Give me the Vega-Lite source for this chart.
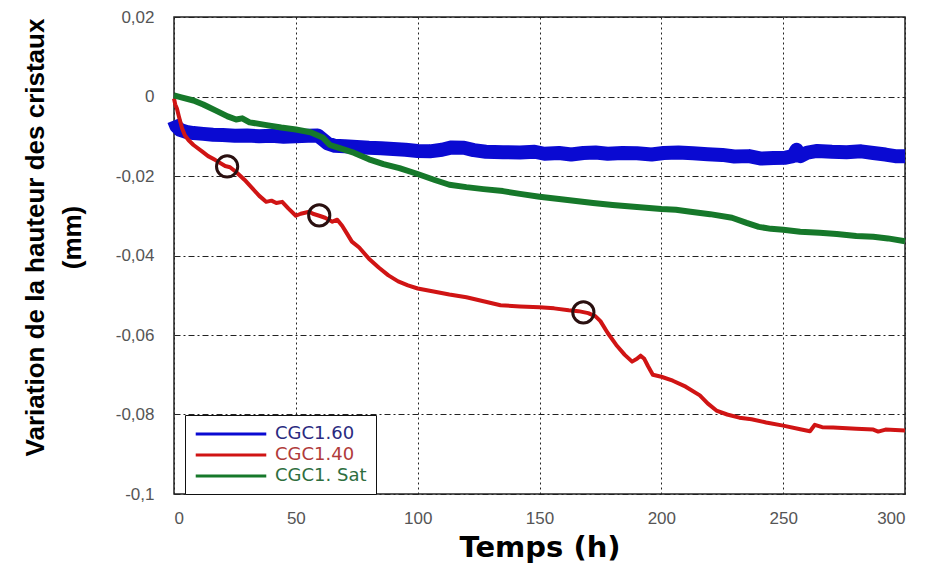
{
  "$schema": "https://vega.github.io/schema/vega-lite/v6.json",
  "width": 731,
  "height": 477,
  "autosize": {"type": "none"},
  "padding": {"left": 174, "top": 17, "right": 21, "bottom": 77},
  "background": "white",
  "config": {
    "view": {"stroke": "#222", "strokeWidth": 1.5},
    "axis": {"domain": false, "ticks": false, "labelColor": "#555", "labelFont": "Liberation Sans", "labelFontSize": 17, "titleColor": "#000", "gridColor": "#222", "gridOpacity": 1, "gridWidth": 1}
  },
  "datasets": {
    "curves": [
      {"t": 0, "v": -0.006, "s": "CGC1.60"}, {"t": 1, "v": -0.0075, "s": "CGC1.60"}, {"t": 2.5, "v": -0.0084, "s": "CGC1.60"}, {"t": 5, "v": -0.0089, "s": "CGC1.60"}, {"t": 8, "v": -0.0092, "s": "CGC1.60"}, {"t": 12, "v": -0.0094, "s": "CGC1.60"}, {"t": 16, "v": -0.0096, "s": "CGC1.60"}, {"t": 20, "v": -0.0097, "s": "CGC1.60"}, {"t": 25, "v": -0.0099, "s": "CGC1.60"}, {"t": 30, "v": -0.0098, "s": "CGC1.60"}, {"t": 35, "v": -0.01, "s": "CGC1.60"}, {"t": 40, "v": -0.0099, "s": "CGC1.60"}, {"t": 45, "v": -0.0101, "s": "CGC1.60"}, {"t": 50, "v": -0.01, "s": "CGC1.60"}, {"t": 55, "v": -0.0099, "s": "CGC1.60"}, {"t": 59, "v": -0.0098, "s": "CGC1.60"}, {"t": 61, "v": -0.0108, "s": "CGC1.60"}, {"t": 63, "v": -0.0118, "s": "CGC1.60"}, {"t": 66, "v": -0.0124, "s": "CGC1.60"}, {"t": 70, "v": -0.0125, "s": "CGC1.60"}, {"t": 75, "v": -0.0127, "s": "CGC1.60"}, {"t": 80, "v": -0.0129, "s": "CGC1.60"}, {"t": 85, "v": -0.013, "s": "CGC1.60"}, {"t": 90, "v": -0.0132, "s": "CGC1.60"}, {"t": 95, "v": -0.0134, "s": "CGC1.60"}, {"t": 100, "v": -0.0137, "s": "CGC1.60"}, {"t": 105, "v": -0.0138, "s": "CGC1.60"}, {"t": 110, "v": -0.0134, "s": "CGC1.60"}, {"t": 114, "v": -0.0128, "s": "CGC1.60"}, {"t": 119, "v": -0.0129, "s": "CGC1.60"}, {"t": 123, "v": -0.0135, "s": "CGC1.60"}, {"t": 128, "v": -0.0139, "s": "CGC1.60"}, {"t": 135, "v": -0.014, "s": "CGC1.60"}, {"t": 142, "v": -0.0141, "s": "CGC1.60"}, {"t": 148, "v": -0.0139, "s": "CGC1.60"}, {"t": 152, "v": -0.0144, "s": "CGC1.60"}, {"t": 158, "v": -0.0142, "s": "CGC1.60"}, {"t": 163, "v": -0.0146, "s": "CGC1.60"}, {"t": 168, "v": -0.0142, "s": "CGC1.60"}, {"t": 173, "v": -0.0141, "s": "CGC1.60"}, {"t": 178, "v": -0.0144, "s": "CGC1.60"}, {"t": 184, "v": -0.0142, "s": "CGC1.60"}, {"t": 190, "v": -0.0143, "s": "CGC1.60"}, {"t": 196, "v": -0.0146, "s": "CGC1.60"}, {"t": 201, "v": -0.0142, "s": "CGC1.60"}, {"t": 207, "v": -0.0141, "s": "CGC1.60"}, {"t": 213, "v": -0.0143, "s": "CGC1.60"}, {"t": 219, "v": -0.0145, "s": "CGC1.60"}, {"t": 225, "v": -0.0147, "s": "CGC1.60"}, {"t": 230, "v": -0.0151, "s": "CGC1.60"}, {"t": 236, "v": -0.015, "s": "CGC1.60"}, {"t": 241, "v": -0.0156, "s": "CGC1.60"}, {"t": 246, "v": -0.0155, "s": "CGC1.60"}, {"t": 251, "v": -0.0154, "s": "CGC1.60"}, {"t": 254, "v": -0.015, "s": "CGC1.60"}, {"t": 255.5, "v": -0.0134, "s": "CGC1.60"}, {"t": 257, "v": -0.015, "s": "CGC1.60"}, {"t": 260, "v": -0.0141, "s": "CGC1.60"}, {"t": 264, "v": -0.0137, "s": "CGC1.60"}, {"t": 270, "v": -0.0139, "s": "CGC1.60"}, {"t": 276, "v": -0.014, "s": "CGC1.60"}, {"t": 282, "v": -0.0138, "s": "CGC1.60"}, {"t": 287, "v": -0.0142, "s": "CGC1.60"}, {"t": 292, "v": -0.0146, "s": "CGC1.60"}, {"t": 296, "v": -0.015, "s": "CGC1.60"}, {"t": 300, "v": -0.015, "s": "CGC1.60"},

      {"t": 0, "v": -0.0005, "s": "CGC1.40"}, {"t": 0.5, "v": -0.002, "s": "CGC1.40"}, {"t": 1.2, "v": -0.003, "s": "CGC1.40"}, {"t": 2, "v": -0.005, "s": "CGC1.40"}, {"t": 3.3, "v": -0.008, "s": "CGC1.40"}, {"t": 4.5, "v": -0.0098, "s": "CGC1.40"}, {"t": 6, "v": -0.011, "s": "CGC1.40"}, {"t": 8, "v": -0.0122, "s": "CGC1.40"}, {"t": 11.5, "v": -0.0138, "s": "CGC1.40"}, {"t": 14, "v": -0.015, "s": "CGC1.40"}, {"t": 17, "v": -0.016, "s": "CGC1.40"}, {"t": 21, "v": -0.0175, "s": "CGC1.40"}, {"t": 23, "v": -0.0178, "s": "CGC1.40"}, {"t": 25.5, "v": -0.019, "s": "CGC1.40"}, {"t": 29, "v": -0.021, "s": "CGC1.40"}, {"t": 32, "v": -0.023, "s": "CGC1.40"}, {"t": 35, "v": -0.025, "s": "CGC1.40"}, {"t": 37.8, "v": -0.0265, "s": "CGC1.40"}, {"t": 40, "v": -0.0262, "s": "CGC1.40"}, {"t": 42, "v": -0.0268, "s": "CGC1.40"}, {"t": 44.4, "v": -0.0265, "s": "CGC1.40"}, {"t": 47, "v": -0.0282, "s": "CGC1.40"}, {"t": 50, "v": -0.03, "s": "CGC1.40"}, {"t": 52, "v": -0.0295, "s": "CGC1.40"}, {"t": 55.5, "v": -0.029, "s": "CGC1.40"}, {"t": 57, "v": -0.0295, "s": "CGC1.40"}, {"t": 59.6, "v": -0.03, "s": "CGC1.40"}, {"t": 62, "v": -0.0305, "s": "CGC1.40"}, {"t": 65, "v": -0.0315, "s": "CGC1.40"}, {"t": 67, "v": -0.031, "s": "CGC1.40"}, {"t": 69, "v": -0.0325, "s": "CGC1.40"}, {"t": 71, "v": -0.0345, "s": "CGC1.40"}, {"t": 73, "v": -0.0365, "s": "CGC1.40"}, {"t": 76, "v": -0.038, "s": "CGC1.40"}, {"t": 80, "v": -0.0408, "s": "CGC1.40"}, {"t": 84, "v": -0.043, "s": "CGC1.40"}, {"t": 88, "v": -0.045, "s": "CGC1.40"}, {"t": 92, "v": -0.0465, "s": "CGC1.40"}, {"t": 96, "v": -0.0475, "s": "CGC1.40"}, {"t": 100, "v": -0.0483, "s": "CGC1.40"}, {"t": 106, "v": -0.049, "s": "CGC1.40"}, {"t": 113, "v": -0.0498, "s": "CGC1.40"}, {"t": 120, "v": -0.0505, "s": "CGC1.40"}, {"t": 127, "v": -0.0515, "s": "CGC1.40"}, {"t": 134, "v": -0.0525, "s": "CGC1.40"}, {"t": 142, "v": -0.0528, "s": "CGC1.40"}, {"t": 150, "v": -0.053, "s": "CGC1.40"}, {"t": 156, "v": -0.0533, "s": "CGC1.40"}, {"t": 162, "v": -0.0538, "s": "CGC1.40"}, {"t": 166, "v": -0.054, "s": "CGC1.40"}, {"t": 170, "v": -0.0545, "s": "CGC1.40"}, {"t": 173, "v": -0.0553, "s": "CGC1.40"}, {"t": 175, "v": -0.0565, "s": "CGC1.40"}, {"t": 178, "v": -0.0595, "s": "CGC1.40"}, {"t": 181.5, "v": -0.0625, "s": "CGC1.40"}, {"t": 185, "v": -0.065, "s": "CGC1.40"}, {"t": 188, "v": -0.0667, "s": "CGC1.40"}, {"t": 190, "v": -0.066, "s": "CGC1.40"}, {"t": 191.5, "v": -0.0652, "s": "CGC1.40"}, {"t": 193, "v": -0.066, "s": "CGC1.40"}, {"t": 194.5, "v": -0.0678, "s": "CGC1.40"}, {"t": 196.5, "v": -0.07, "s": "CGC1.40"}, {"t": 200, "v": -0.0705, "s": "CGC1.40"}, {"t": 204.7, "v": -0.0715, "s": "CGC1.40"}, {"t": 210, "v": -0.073, "s": "CGC1.40"}, {"t": 215.8, "v": -0.0752, "s": "CGC1.40"}, {"t": 219, "v": -0.0772, "s": "CGC1.40"}, {"t": 222.6, "v": -0.079, "s": "CGC1.40"}, {"t": 227, "v": -0.08, "s": "CGC1.40"}, {"t": 232, "v": -0.0808, "s": "CGC1.40"}, {"t": 237, "v": -0.0812, "s": "CGC1.40"}, {"t": 243, "v": -0.082, "s": "CGC1.40"}, {"t": 250, "v": -0.0828, "s": "CGC1.40"}, {"t": 257, "v": -0.0837, "s": "CGC1.40"}, {"t": 261, "v": -0.0842, "s": "CGC1.40"}, {"t": 263, "v": -0.0826, "s": "CGC1.40"}, {"t": 266, "v": -0.0832, "s": "CGC1.40"}, {"t": 270.5, "v": -0.0833, "s": "CGC1.40"}, {"t": 280, "v": -0.0836, "s": "CGC1.40"}, {"t": 287, "v": -0.0838, "s": "CGC1.40"}, {"t": 289, "v": -0.0843, "s": "CGC1.40"}, {"t": 292, "v": -0.0838, "s": "CGC1.40"}, {"t": 300, "v": -0.084, "s": "CGC1.40"},

      {"t": 0, "v": 0.0003, "s": "CGC1. Sat"}, {"t": 3, "v": -0.0002, "s": "CGC1. Sat"}, {"t": 8, "v": -0.001, "s": "CGC1. Sat"}, {"t": 12, "v": -0.002, "s": "CGC1. Sat"}, {"t": 17, "v": -0.0035, "s": "CGC1. Sat"}, {"t": 22, "v": -0.005, "s": "CGC1. Sat"}, {"t": 25.5, "v": -0.0058, "s": "CGC1. Sat"}, {"t": 28, "v": -0.0055, "s": "CGC1. Sat"}, {"t": 31, "v": -0.0065, "s": "CGC1. Sat"}, {"t": 38, "v": -0.0072, "s": "CGC1. Sat"}, {"t": 44, "v": -0.0078, "s": "CGC1. Sat"}, {"t": 50, "v": -0.0083, "s": "CGC1. Sat"}, {"t": 56, "v": -0.009, "s": "CGC1. Sat"}, {"t": 61, "v": -0.0103, "s": "CGC1. Sat"}, {"t": 64, "v": -0.0122, "s": "CGC1. Sat"}, {"t": 68, "v": -0.013, "s": "CGC1. Sat"}, {"t": 74, "v": -0.0142, "s": "CGC1. Sat"}, {"t": 80, "v": -0.0158, "s": "CGC1. Sat"}, {"t": 86, "v": -0.017, "s": "CGC1. Sat"}, {"t": 92.5, "v": -0.018, "s": "CGC1. Sat"}, {"t": 100, "v": -0.0195, "s": "CGC1. Sat"}, {"t": 107, "v": -0.021, "s": "CGC1. Sat"}, {"t": 113, "v": -0.0222, "s": "CGC1. Sat"}, {"t": 120, "v": -0.0228, "s": "CGC1. Sat"}, {"t": 127, "v": -0.0233, "s": "CGC1. Sat"}, {"t": 135, "v": -0.0238, "s": "CGC1. Sat"}, {"t": 142, "v": -0.0245, "s": "CGC1. Sat"}, {"t": 150, "v": -0.0252, "s": "CGC1. Sat"}, {"t": 158, "v": -0.0258, "s": "CGC1. Sat"}, {"t": 165, "v": -0.0263, "s": "CGC1. Sat"}, {"t": 172, "v": -0.0268, "s": "CGC1. Sat"}, {"t": 180, "v": -0.0273, "s": "CGC1. Sat"}, {"t": 190, "v": -0.0278, "s": "CGC1. Sat"}, {"t": 200, "v": -0.0283, "s": "CGC1. Sat"}, {"t": 206, "v": -0.0285, "s": "CGC1. Sat"}, {"t": 212, "v": -0.029, "s": "CGC1. Sat"}, {"t": 220, "v": -0.0296, "s": "CGC1. Sat"}, {"t": 229, "v": -0.0305, "s": "CGC1. Sat"}, {"t": 235, "v": -0.0318, "s": "CGC1. Sat"}, {"t": 240, "v": -0.0328, "s": "CGC1. Sat"}, {"t": 245, "v": -0.0333, "s": "CGC1. Sat"}, {"t": 250, "v": -0.0335, "s": "CGC1. Sat"}, {"t": 257, "v": -0.034, "s": "CGC1. Sat"}, {"t": 265, "v": -0.0343, "s": "CGC1. Sat"}, {"t": 272, "v": -0.0346, "s": "CGC1. Sat"}, {"t": 280, "v": -0.0351, "s": "CGC1. Sat"}, {"t": 287, "v": -0.0353, "s": "CGC1. Sat"}, {"t": 293, "v": -0.0357, "s": "CGC1. Sat"}, {"t": 300, "v": -0.0364, "s": "CGC1. Sat"}
    ],
    "marks": [
      {"t": 21.8, "v": -0.0176},
      {"t": 59.6, "v": -0.0299},
      {"t": 168, "v": -0.0543}
    ]
  },
  "layer": [
    {
      "data": {"name": "curves"},
      "transform": [{"filter": "datum.s === 'CGC1.60'"}],
      "mark": {"type": "line", "strokeWidth": 14, "strokeJoin": "round"},
      "encoding": {
        "x": {"field": "t", "type": "quantitative", "scale": {"domain": [0, 300], "nice": false},
          "axis": {"values": [0, 50, 100, 150, 200, 250, 300], "grid": true, "gridDash": [2, 3], "labelPadding": 16, "title": "Temps (h)", "titleFont": "DejaVu Sans", "titleFontWeight": "bold", "titleFontSize": 29, "titlePadding": 7}},
        "y": {"field": "v", "type": "quantitative", "scale": {"domain": [-0.1, 0.02], "nice": false, "zero": false},
          "axis": {"values": [0.02, 0, -0.02, -0.04, -0.06, -0.08, -0.1], "grid": true, "gridDash": [6, 3, 2, 3], "labelPadding": 20, "labelExpr": "replace(datum.value + '', '.', ',')", "title": ["Variation de la hauteur des cristaux", "(mm)"], "titleFont": "Liberation Sans", "titleFontWeight": "bold", "titleFontSize": 26, "titleLineHeight": 37, "titlePadding": 30, "titleY": 220}},
        "color": {"field": "s", "type": "nominal",
          "scale": {"domain": ["CGC1.60", "CGC1.40", "CGC1. Sat"], "range": ["#0a0ad2", "#d01414", "#16782a"]},
          "legend": {"title": null, "orient": "none", "legendX": 11, "legendY": 398, "symbolType": "M-4.15,0H4.15", "symbolSize": 289, "symbolOffset": 27, "labelFont": "DejaVu Sans", "labelFontSize": 18, "labelOffset": 34, "rowPadding": 2, "padding": 9, "fillColor": "white", "strokeColor": "#111",
            "encode": {
              "symbols": {"update": {"strokeWidth": {"value": 3}}},
              "labels": {"update": {"fill": {"signal": "datum.value === 'CGC1.60' ? '#2a2a80' : datum.value === 'CGC1.40' ? '#b03a3a' : '#2e6e3e'"}}}}}
        }
      }
    },
    {
      "data": {"name": "curves"},
      "transform": [{"filter": "datum.s === 'CGC1.40'"}],
      "mark": {"type": "line", "strokeWidth": 4, "strokeJoin": "round"},
      "encoding": {
        "x": {"field": "t", "type": "quantitative"},
        "y": {"field": "v", "type": "quantitative"},
        "color": {"field": "s", "type": "nominal"}
      }
    },
    {
      "data": {"name": "curves"},
      "transform": [{"filter": "datum.s === 'CGC1. Sat'"}],
      "mark": {"type": "line", "strokeWidth": 6, "strokeJoin": "round"},
      "encoding": {
        "x": {"field": "t", "type": "quantitative"},
        "y": {"field": "v", "type": "quantitative"},
        "color": {"field": "s", "type": "nominal"}
      }
    },
    {
      "data": {"name": "marks"},
      "mark": {"type": "point", "shape": "circle", "filled": false, "size": 450, "strokeWidth": 3, "color": "#2a1010", "opacity": 1},
      "encoding": {
        "x": {"field": "t", "type": "quantitative"},
        "y": {"field": "v", "type": "quantitative"}
      }
    }
  ]
}
